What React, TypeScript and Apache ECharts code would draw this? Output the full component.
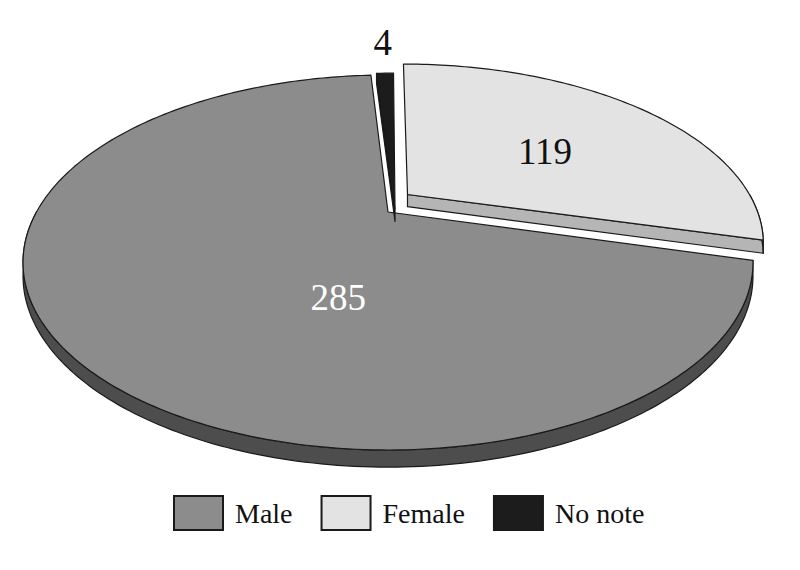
import { useEffect, useRef } from 'react';
import * as echarts from 'echarts';

const categories = ['Male', 'Female', 'No note'];
const counts = [285, 119, 4];
// order of the slices going clockwise from 12 o'clock
const clockwiseOrder = ['Female', 'Male', 'No note'];

const topColor: Record<string, string> = { Male: '#8c8c8c', Female: '#e3e3e3', 'No note': '#1c1c1c' };
const sideColor: Record<string, string> = { Male: '#4d4d4d', Female: '#b5b5b5', 'No note': '#111111' };
// explosion offset in disk units (right, away from viewer)
const explode: Record<string, [number, number]> = { Male: [0, 0], Female: [0.057, 0.1035], 'No note': [0.02, 0.017] };
const labelSpot: Record<string, { angle?: number; r: number; color: string }> = {
  Male: { angle: 196, r: 0.454, color: '#ffffff' },
  Female: { angle: 57, r: 0.52, color: '#111111' },
  'No note': { r: 1.3, color: '#111111' },
};

// simple perspective of a tilted disk
const CX = 388;
const CY = 212;
const RX = 351.5;
const RY = 173.9;
const K = 0.2693;
const DEPTH = 12.5;

function project(u: number, v: number, z: number): number[] {
  const den = 1 + K * v;
  return [CX + (RX * u) / den, CY - (RY * v) / den + (DEPTH * z) / den];
}

const total = counts.reduce((a, b) => a + b, 0);
const sliceAngles: Record<string, [number, number]> = {};
{
  let a = 0;
  for (const name of clockwiseOrder) {
    const sweep = (counts[categories.indexOf(name)] / total) * 360;
    sliceAngles[name] = [a, a + sweep];
    a += sweep;
  }
}

const rad = (d: number) => (d * Math.PI) / 180;

function renderSlice(params: any, api: any) {
  const name = categories[params.seriesIndex];
  const value = api.value(0);
  const [a0, a1] = sliceAngles[name];
  const [ou, ov] = explode[name];
  const P = (deg: number, r: number, z: number) => project(ou + r * Math.sin(rad(deg)), ov + r * Math.cos(rad(deg)), z);
  const arc = (from: number, to: number, z: number) => {
    const n = Math.max(2, Math.ceil(Math.abs(to - from)));
    const pts: number[][] = [];
    for (let i = 0; i <= n; i++) pts.push(P(from + ((to - from) * i) / n, 1, z));
    return pts;
  };
  const edge = { stroke: '#1a1a1a', lineWidth: 1.2, lineJoin: 'round' };
  const children: any[] = [];

  // cut faces that turn towards the viewer
  const cuts: [number, number][] = [[a0, a0 - 90], [a1, a1 + 90]];
  for (const [a, normal] of cuts) {
    if (Math.cos(rad(normal)) < -0.01) {
      children.push({
        type: 'polygon',
        shape: { points: [P(a, 0, 0), P(a, 1, 0), P(a, 1, 1), P(a, 0, 1)] },
        style: { fill: sideColor[name], ...edge },
      });
    }
  }
  // outer rim, front half only
  const s0 = Math.max(a0, 90);
  const s1 = Math.min(a1, 270);
  if (s1 > s0) {
    children.push({
      type: 'polygon',
      shape: { points: [...arc(s0, s1, 0), ...arc(s1, s0, 1)] },
      style: { fill: sideColor[name], ...edge },
    });
  }
  // top face
  children.push({
    type: 'polygon',
    shape: { points: [P(a0, 0, 0), ...arc(a0, a1, 0)] },
    style: { fill: topColor[name], ...edge },
  });

  const spot = labelSpot[name];
  const [lx, ly] = P(spot.angle ?? (a0 + a1) / 2, spot.r, 0);
  children.push({
    type: 'text',
    style: {
      text: String(value),
      x: lx,
      y: ly,
      fill: spot.color,
      font: '37px "Liberation Serif"',
      align: 'center',
      verticalAlign: 'middle',
    },
  });
  return { type: 'group', children };
}

export default function App() {
  const ref = useRef<HTMLDivElement>(null);

  useEffect(() => {
    if (!ref.current) return;
    document.body.style.margin = '0';
    const chart = echarts.init(ref.current, undefined, { renderer: 'svg' });
    chart.setOption({
      animation: false,
      backgroundColor: '#ffffff',
      legend: {
        data: categories,
        left: 168,
        top: 490,
        icon: 'rect',
        itemWidth: 49,
        itemHeight: 34,
        itemGap: 28,
        selectedMode: false,
        itemStyle: { borderColor: '#1a1a1a', borderWidth: 2 },
        textStyle: { fontFamily: 'Liberation Serif', fontSize: 28, color: '#111111', padding: [0, 0, 0, 7] },
      },
      series: categories.map((name, i) => ({
        name,
        type: 'custom',
        coordinateSystem: 'none',
        renderItem: renderSlice,
        itemStyle: { color: topColor[name] },
        data: [counts[i]],
      })),
    });
    return () => chart.dispose();
  }, []);

  return <div ref={ref} style={{ width: 800, height: 570 }} />;
}
